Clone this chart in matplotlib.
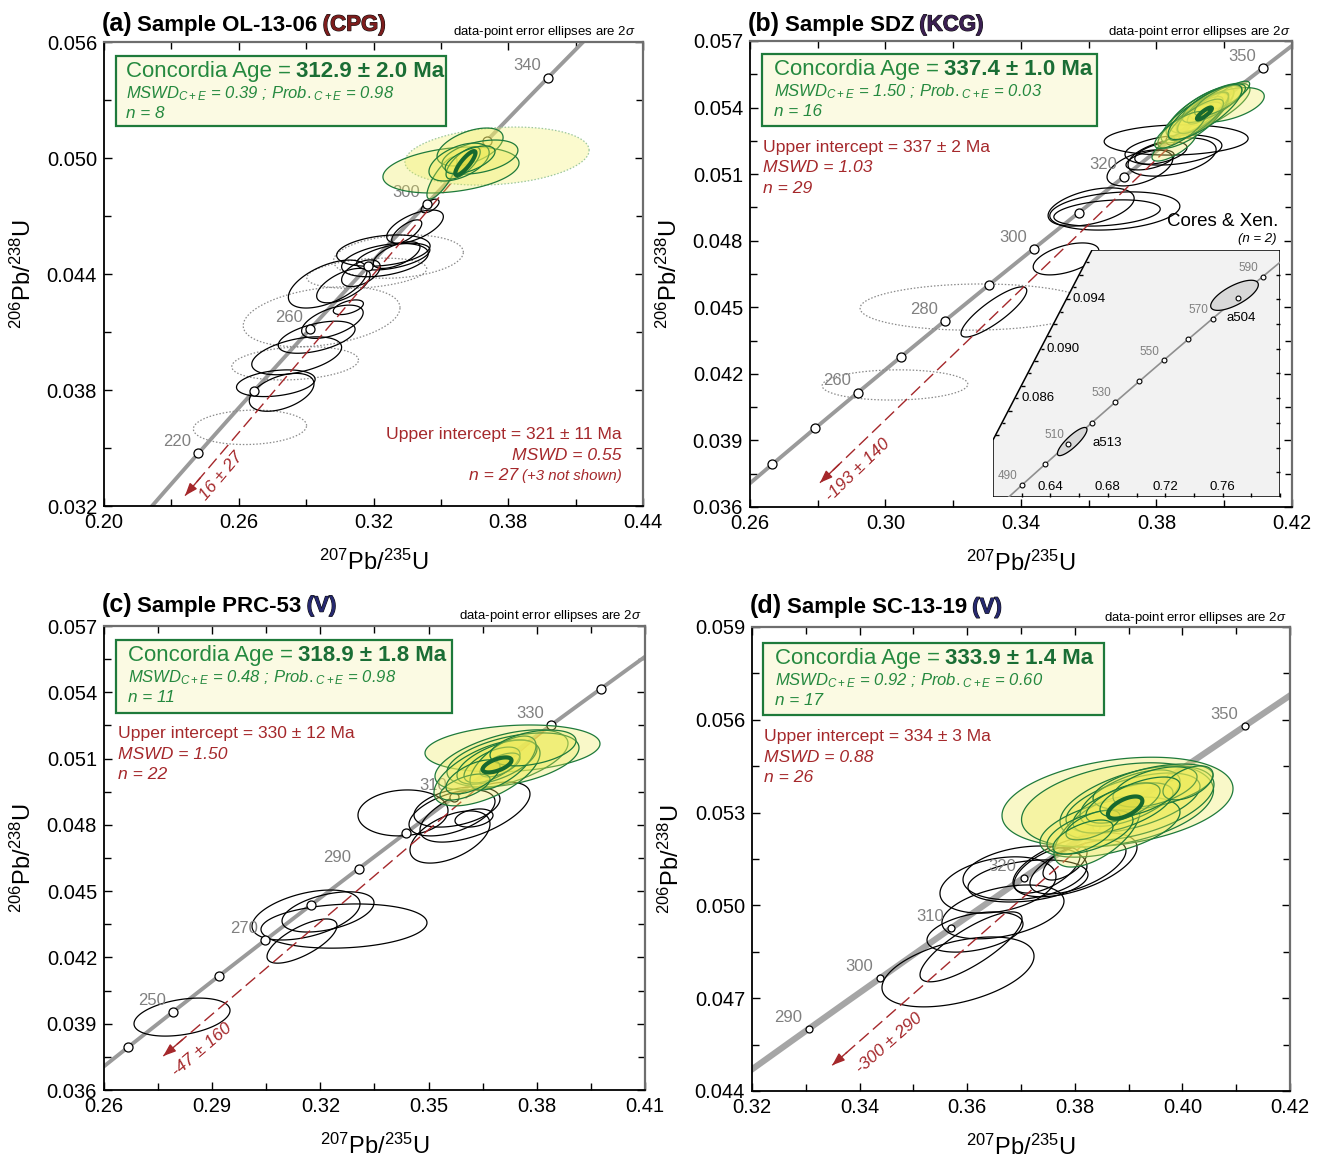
import numpy as np
import matplotlib
matplotlib.use('Agg')
import matplotlib.pyplot as plt
from matplotlib.patches import Polygon, Rectangle
from matplotlib import font_manager as fm
import matplotlib.patheffects as pe

_names = {f.name for f in fm.fontManager.ttflist}
NARROW = 'Liberation Sans Narrow' if 'Liberation Sans Narrow' in _names else 'Liberation Sans'
plt.rcParams['font.family'] = [NARROW, 'DejaVu Sans']
plt.rcParams['mathtext.fontset'] = 'custom'
plt.rcParams['mathtext.rm'] = NARROW
plt.rcParams['mathtext.it'] = NARROW + ':italic'
plt.rcParams['mathtext.bf'] = NARROW + ':bold'

# ---------------- decay constants (concordia) ----------------
L238 = 1.55125e-10
L235 = 9.8485e-10

# ---------------- panel (a) OL-13-06 ----------------
A_TICK_AGES = [220, 240, 260, 280, 300, 320, 340]
A_LABEL_AGES = [220, 260, 300, 340]
A_BLACK = [  # (x, y, 2s_x, 2s_y, rho)
    (0.3452, 0.04752, 0.0040, 0.00035, 0.6),
    (0.3385, 0.04645, 0.0126, 0.00086, 0.6),
    (0.3348, 0.04619, 0.0067, 0.00061, 0.7),
    (0.3244, 0.04521, 0.0208, 0.00081, 0.3),
    (0.3251, 0.04472, 0.0193, 0.00086, 0.4),
    (0.3288, 0.04490, 0.0163, 0.00069, 0.5),
    (0.3303, 0.04498, 0.0104, 0.00069, 0.6),
    (0.3144, 0.04404, 0.0086, 0.00069, 0.5),
    (0.2996, 0.04348, 0.0175, 0.00124, 0.55),
    (0.3066, 0.04340, 0.0119, 0.00089, 0.6),
    (0.3088, 0.04228, 0.0067, 0.00038, 0.5),
    (0.3017, 0.04153, 0.0137, 0.00086, 0.55),
    (0.2947, 0.04073, 0.0171, 0.00083, 0.5),
    (0.2858, 0.03977, 0.0200, 0.00098, 0.45),
    (0.2765, 0.03835, 0.0175, 0.00069, 0.3),
    (0.2791, 0.03788, 0.0144, 0.00098, 0.45),
]
A_GRAY = [
    (0.3311, 0.04490, 0.0289, 0.00112, 0.2),
    (0.3170, 0.04404, 0.0267, 0.00078, 0.3),
    (0.2969, 0.04179, 0.0349, 0.00155, 0.3),
    (0.2851, 0.03938, 0.0282, 0.00086, 0.2),
    (0.2650, 0.03607, 0.0252, 0.00089, 0.1),
]
A_GREEN_DOTTED = [(0.3750, 0.05010, 0.0410, 0.00150, 0.2)]
A_GREEN = [
    (0.3545, 0.04938, 0.0303, 0.00119, 0.3),
    (0.3505, 0.04897, 0.0067, 0.00109, 0.8),
    (0.3630, 0.05057, 0.0147, 0.00098, 0.5),
    (0.3674, 0.05005, 0.0169, 0.00088, 0.4),
    (0.3581, 0.04979, 0.0134, 0.00098, 0.5),
    (0.3599, 0.04974, 0.0076, 0.00083, 0.7),
    (0.3630, 0.04990, 0.0111, 0.00072, 0.6),
]
A_AGE = 312.9
A_AGE_ELL = (0.0045, 0.00062, 0.85)
A_UPPER, A_LOWER = 321, 16
A_TEXT = dict(age='312.9 ± 2.0 Ma', mswd='0.39', prob='0.98', n='8',
              ui='321 ± 11 Ma', ui_mswd='0.55', ui_n='27', lower='16 ± 27')

# ---------------- panel (b) SDZ ----------------
B_TICK_AGES = [240, 250, 260, 270, 280, 290, 300, 310, 320, 330, 340, 350]
B_LABEL_AGES = [260, 280, 300, 320, 350]
B_BLACK = [
    (0.3858, 0.05254, 0.02125, 0.00068, 0.1),
    (0.3850, 0.05209, 0.0143, 0.00068, 0.3),
    (0.3846, 0.05177, 0.0130, 0.00086, 0.4),
    (0.3813, 0.05195, 0.0077, 0.00050, 0.5),
    (0.3751, 0.05128, 0.0097, 0.00081, 0.5),
    (0.3781, 0.05164, 0.0071, 0.00045, 0.5),
    (0.3607, 0.04952, 0.0127, 0.00086, 0.45),
    (0.3677, 0.04934, 0.0192, 0.00086, 0.25),
    (0.3654, 0.04925, 0.0157, 0.00059, 0.3),
    (0.3533, 0.04718, 0.0097, 0.00072, 0.5),
    (0.3320, 0.04479, 0.0097, 0.00113, 0.85),
]
B_GRAY = [
    (0.3267, 0.04501, 0.0342, 0.00104, 0.05),
    (0.3028, 0.04150, 0.0215, 0.00068, 0.05),
]
B_GREEN = [
    (0.39284, 0.05380, 0.0100, 0.00112, 0.78),
    (0.39432, 0.05389, 0.0085, 0.00104, 0.80),
    (0.39579, 0.05398, 0.0118, 0.00112, 0.75),
    (0.40081, 0.05412, 0.0110, 0.00078, 0.50),
    (0.39137, 0.05353, 0.0100, 0.00112, 0.78),
    (0.38517, 0.05227, 0.0065, 0.00068, 0.75),
    (0.40170, 0.05457, 0.0058, 0.00062, 0.80),
    (0.39284, 0.05367, 0.0068, 0.00083, 0.80),
    (0.38989, 0.05321, 0.0095, 0.00104, 0.78),
    (0.39520, 0.05398, 0.0061, 0.00072, 0.80),
    (0.39373, 0.05376, 0.0075, 0.00093, 0.78),
    (0.39638, 0.05416, 0.0088, 0.00083, 0.75),
    (0.39166, 0.05345, 0.0081, 0.00093, 0.80),
    (0.39874, 0.05434, 0.0075, 0.00072, 0.75),
    (0.38694, 0.05299, 0.0075, 0.00083, 0.78),
    (0.39432, 0.05380, 0.0109, 0.00124, 0.80),
]
B_AGE = 337.4
B_AGE_ELL = (0.0022, 0.00027, 0.85)
B_UPPER, B_LOWER = 337, -193
B_TEXT = dict(age='337.4 ± 1.0 Ma', mswd='1.50', prob='0.03', n='16',
              ui='337 ± 2 Ma', ui_mswd='1.03', ui_n='29', lower='-193 ± 140')
# inset: inherited cores & xenocrysts
INSET_TICK_AGES = [490, 500, 510, 520, 530, 540, 550, 560, 570, 580, 590]
INSET_LABEL_AGES = [490, 510, 530, 550, 570, 590]
INSET_CORES = [(0.7683, 0.09433, 0.0166, 0.00122, 0.7),
               (0.6552, 0.08249, 0.0103, 0.00114, 0.85)]
INSET_CORE_NAMES = ['a504', 'a513']
INSET_XLABELS = [0.64, 0.68, 0.72, 0.76]
INSET_YLABELS = [0.086, 0.090, 0.094]

# ---------------- panel (c) PRC-53 ----------------
C_TICK_AGES = [240, 250, 260, 270, 280, 290, 300, 310, 320, 330, 340]
C_LABEL_AGES = [250, 270, 290, 310, 330]
C_BLACK = [
    (0.36286, 0.04858, 0.01525, 0.00136, 0.6),
    (0.35649, 0.04854, 0.01192, 0.00104, 0.5),
    (0.35787, 0.04881, 0.01192, 0.00091, 0.4),
    (0.36259, 0.04831, 0.00527, 0.00041, 0.3),
    (0.35593, 0.04745, 0.01109, 0.00118, 0.5),
    (0.34290, 0.04854, 0.01248, 0.00104, 0.1),
    (0.31601, 0.04392, 0.01497, 0.00113, 0.45),
    (0.32211, 0.04406, 0.01275, 0.00091, 0.45),
    (0.32654, 0.04342, 0.02301, 0.00100, 0.15),
    (0.31490, 0.04274, 0.00970, 0.00100, 0.7),
    (0.28163, 0.03930, 0.01331, 0.00086, 0.35),
]
C_GREEN = [
    (0.37326, 0.05146, 0.02426, 0.00106, 0.2),
    (0.37021, 0.05094, 0.01844, 0.00136, 0.55),
    (0.37340, 0.05094, 0.01830, 0.00122, 0.45),
    (0.36619, 0.05035, 0.01470, 0.00149, 0.6),
    (0.36896, 0.05084, 0.01109, 0.00100, 0.6),
    (0.36758, 0.05071, 0.00776, 0.00081, 0.6),
    (0.36980, 0.05071, 0.00555, 0.00054, 0.6),
    (0.37063, 0.05080, 0.00915, 0.00122, 0.65),
    (0.36009, 0.04971, 0.00693, 0.00059, 0.6),
    (0.37895, 0.05148, 0.01192, 0.00081, 0.4),
    (0.36231, 0.05017, 0.00749, 0.00077, 0.6),
]
C_AGE = 318.9
C_AGE_ELL = (0.0040, 0.00034, 0.6)
C_UPPER, C_LOWER = 330, -47
C_TEXT = dict(age='318.9 ± 1.8 Ma', mswd='0.48', prob='0.98', n='11',
              ui='330 ± 12 Ma', ui_mswd='1.50', ui_n='22', lower='-47 ± 160')

# ---------------- panel (d) SC-13-19 ----------------
D_TICK_AGES = [290, 300, 310, 320, 330, 340, 350]
D_LABEL_AGES = [290, 300, 310, 320, 350]
D_BLACK = [
    (0.38004, 0.05131, 0.01152, 0.00103, 0.55),
    (0.38059, 0.05124, 0.00892, 0.00087, 0.6),
    (0.37818, 0.05137, 0.00409, 0.00055, 0.6),
    (0.37074, 0.05105, 0.01152, 0.00087, 0.25),
    (0.36572, 0.05066, 0.01078, 0.00091, 0.3),
    (0.37483, 0.05114, 0.00613, 0.00074, 0.6),
    (0.36071, 0.04866, 0.00948, 0.00113, 0.8),
    (0.36145, 0.04914, 0.00892, 0.00065, 0.4),
    (0.35829, 0.04785, 0.01413, 0.00113, 0.45),
    (0.36665, 0.04979, 0.01134, 0.00087, 0.4),
    (0.37130, 0.05079, 0.01115, 0.00068, 0.3),
]
D_GREEN = [
    (0.38794, 0.05334, 0.02147, 0.00145, 0.3),
    (0.38794, 0.05325, 0.01784, 0.00136, 0.35),
    (0.39156, 0.05331, 0.01431, 0.00120, 0.5),
    (0.39082, 0.05331, 0.01245, 0.00097, 0.55),
    (0.38654, 0.05253, 0.01301, 0.00097, 0.5),
    (0.38413, 0.05237, 0.00799, 0.00113, 0.6),
    (0.39026, 0.05347, 0.00929, 0.00091, 0.6),
    (0.39454, 0.05383, 0.01115, 0.00074, 0.5),
    (0.38896, 0.05315, 0.00929, 0.00081, 0.6),
    (0.39491, 0.05383, 0.00781, 0.00065, 0.5),
    (0.38283, 0.05237, 0.00799, 0.00071, 0.55),
    (0.38896, 0.05331, 0.00688, 0.00065, 0.6),
    (0.40104, 0.05396, 0.00465, 0.00055, 0.5),
    (0.38338, 0.05260, 0.00502, 0.00048, 0.6),
    (0.39212, 0.05350, 0.00743, 0.00065, 0.6),
    (0.38152, 0.05221, 0.00558, 0.00055, 0.6),
]
D_AGE = 333.9
D_AGE_ELL = (0.0032, 0.00036, 0.6)
D_UPPER, D_LOWER = 334, -300
D_TEXT = dict(age='333.9 ± 1.4 Ma', mswd='0.92', prob='0.60', n='17',
              ui='334 ± 3 Ma', ui_mswd='0.88', ui_n='26', lower='-300 ± 290')

# ---------------- styles ----------------
GREEN_EDGE = '#1e7a3b'
GREEN_TXT = '#25893f'
GREEN_BOLD = '#1a6e35'
YELLOW = (0.93, 0.92, 0.35, 0.33)
RED = '#a5282b'
CONC_GRAY = '#9a9a9a'
LABEL_GRAY = '#808080'


def concordia(t_ma):
    t = np.asarray(t_ma, dtype=float) * 1e6
    return np.expm1(L235 * t), np.expm1(L238 * t)


def ellipse(ax, e, **kw):
    cx, cy, sx, sy, r = e
    t = np.linspace(0, 2 * np.pi, 241)
    x = cx + sx * np.cos(t)
    y = cy + sy * (r * np.cos(t) + np.sqrt(1 - r * r) * np.sin(t))
    p = Polygon(np.column_stack([x, y]), closed=True, **kw)
    ax.add_patch(p)
    return p


fig = plt.figure(figsize=(13.2, 11.58), dpi=100)
renderer = fig.canvas.get_renderer()


def chain(ax, x, y, pieces, align='left'):
    """pieces: list of (text, gap_px_after, kwargs); placed on a common baseline."""
    texts, widths = [], []
    for txt, gap, kw in pieces:
        t = ax.text(x, y, txt, transform=ax.transAxes, va='baseline', ha='left',
                    zorder=10, **kw)
        w = t.get_window_extent(renderer).width
        texts.append(t)
        widths.append((w + gap) / ax.bbox.width)
    total = sum(widths) - pieces[-1][1] / ax.bbox.width
    x0 = x - total if align == 'right' else x
    for t, w in zip(texts, widths):
        t.set_x(x0)
        x0 += w
    return texts


def draw_panel(ax, P):
    ax.set_xlim(*P['xlim'])
    ax.set_ylim(*P['ylim'])
    xt = np.arange(P['xlim'][0], P['xlim'][1] + 1e-9, P['xstep'])
    yt = np.arange(P['ylim'][0], P['ylim'][1] + 1e-9, P['ystep'])
    ax.set_xticks(xt)
    ax.set_yticks(yt)
    ax.set_xticks(np.arange(P['xlim'][0], P['xlim'][1] + 1e-9, P['xstep'] / 2), minor=True)
    ax.set_yticks(np.arange(P['ylim'][0], P['ylim'][1] + 1e-9, P['ystep'] / 2), minor=True)
    ax.set_xticklabels(['%.2f' % v for v in xt])
    ax.set_yticklabels(['%.3f' % v for v in yt])
    ax.tick_params(which='both', direction='in', top=True, right=True, width=1.0,
                   labelsize=14.5, pad=5)
    ax.tick_params(which='major', length=6)
    ax.tick_params(which='minor', length=5)
    for s in ['left', 'bottom']:
        ax.spines[s].set_color('black')
        ax.spines[s].set_linewidth(1.3)
    for s in ['top', 'right']:
        ax.spines[s].set_color('#6e6e6e')
        ax.spines[s].set_linewidth(1.6)
    ax.set_xlabel(r'$^{207}$Pb/$^{235}$U', fontsize=17, labelpad=13)
    ax.set_ylabel(r'$^{206}$Pb/$^{238}$U', fontsize=17, labelpad=8)

    # concordia curve
    tt = np.linspace(150, 400, 600)
    cx, cy = concordia(tt)
    ax.plot(cx, cy, color=P['conc_color'], lw=P['conc_lw'], zorder=2,
            solid_capstyle='butt')

    for e in P.get('gray', []):
        ellipse(ax, e, fill=False, ec='#8a8a8a', lw=0.9, ls=(0, (1.2, 1.5)), zorder=3)
    for e in P['black']:
        ellipse(ax, e, fill=False, ec='black', lw=0.9, zorder=3)

    # discordia
    ux, uy = concordia(P['upper'])
    lx, ly = concordia(P['lower'])
    slope = (uy - ly) / (ux - lx)
    xa = P['arrow_x']
    ya = ly + slope * (xa - lx)
    ax.plot([xa, ux], [ya, uy], color=RED, lw=1.0, dashes=(9, 4), zorder=4)
    xs = xa + (ux - xa) * 0.05
    ax.annotate('', xy=(xa, ya), xytext=(xs, ly + slope * (xs - lx)),
                arrowprops=dict(arrowstyle='-|>,head_length=0.75,head_width=0.28',
                                color=RED, lw=1.0, shrinkA=0, shrinkB=0), zorder=4)
    p0 = ax.transData.transform((lx, ly))
    p1 = ax.transData.transform((ux, uy))
    ang = np.degrees(np.arctan2(p1[1] - p0[1], p1[0] - p0[0]))
    rad = np.radians(ang)
    yl = P['dlabel_y']
    xl = lx + (yl - ly) / slope
    d = P['dlabel_off']
    ax.annotate(P['text']['lower'], (xl, yl), xytext=(d * np.sin(rad), -d * np.cos(rad)),
                textcoords='offset pixels', rotation=ang, rotation_mode='anchor',
                ha='center', va='center', color=RED, style='italic', fontsize=12.5,
                zorder=4)

    # concordia age markers (below filled ellipses)
    mx, my = concordia(P['ticks'])
    ax.plot(mx, my, 'o', ls='none', ms=P['ms'], mfc='white', mec='black', mew=0.9,
            zorder=4.5)
    for a in P['labels']:
        x, y = concordia(a)
        ax.annotate(str(a), (x, y), xytext=(-5, 3), textcoords='offset points',
                    ha='right', va='bottom', color=LABEL_GRAY, fontsize=12, zorder=4.5)

    for e in P.get('green_dotted', []):
        ellipse(ax, e, fc=(0.96, 0.95, 0.5, 0.38), ec='#9cc79c', lw=0.9,
                ls=(0, (1.2, 1.5)), zorder=5)
    for e in P['green']:
        ellipse(ax, e, fc=YELLOW, ec=GREEN_EDGE, lw=0.9, zorder=5)
    ax_, ay_ = concordia(P['age'])
    ellipse(ax, (float(ax_), float(ay_)) + P['age_ell'], fc=(0.85, 0.85, 0.25, 0.7),
            ec='#17692f', lw=3.0, zorder=6)

    # Concordia age box
    x0, y0, x1, y1 = P['box']
    ax.add_patch(Rectangle((x0, y0), x1 - x0, y1 - y0, transform=ax.transAxes,
                           fc='#fbfae3', ec=GREEN_EDGE, lw=1.6, zorder=9))
    T = P['text']
    bx, (b1, b2, b3) = P['box_text_x'], P['box_text_y']
    chain(ax, bx, b1, [('Concordia Age =', 5, dict(fontsize=16, color=GREEN_TXT)),
                       (T['age'], 0, dict(fontsize=16, color=GREEN_BOLD, fontweight='bold'))])
    ax.text(bx, b2, r'$MSWD_{C+E}$ = %s ; $Prob._{C+E}$ = %s' % (T['mswd'], T['prob']),
            transform=ax.transAxes, fontsize=12, color=GREEN_TXT, style='italic',
            va='baseline', zorder=10)
    ax.text(bx, b3, 'n = %s' % T['n'], transform=ax.transAxes, fontsize=12.3,
            color=GREEN_TXT, style='italic', va='baseline', zorder=10)

    # upper intercept text
    ux_, (u1, u2, u3) = P['ui_x'], P['ui_y']
    ha = P['ui_ha']
    ax.text(ux_, u1, 'Upper intercept = ' + T['ui'], transform=ax.transAxes, ha=ha,
            va='baseline', fontsize=12.6, color=RED, zorder=10)
    ax.text(ux_, u2, 'MSWD = ' + T['ui_mswd'], transform=ax.transAxes, ha=ha,
            va='baseline', fontsize=12.6, color=RED, style='italic', zorder=10)
    if P.get('not_shown'):
        chain(ax, ux_, u3, [('n = ' + T['ui_n'], 4, dict(fontsize=12.6, color=RED, style='italic')),
                            ('(+3 not shown)', 0, dict(fontsize=10.8, color=RED, style='italic'))],
              align='right')
    else:
        ax.text(ux_, u3, 'n = ' + T['ui_n'], transform=ax.transAxes, ha=ha,
                va='baseline', fontsize=12.6, color=RED, style='italic', zorder=10)

    # title
    tx, ty = P['title_xy']
    chain(ax, tx, ty, [(P['letter'], 5, dict(fontsize=18, fontweight='bold')),
                       ('Sample ' + P['sample'], 5, dict(fontsize=16, fontweight='bold')),
                       (P['unit'], 0, dict(fontsize=16, fontweight='bold', color=P['unit_color'],
                                           path_effects=[pe.withStroke(linewidth=0.8,
                                                                       foreground='#111111')]))])
    ax.text(P['note_xy'][0], P['note_xy'][1], r'data-point error ellipses are 2$\sigma$',
            transform=ax.transAxes, ha='right', va='baseline', fontsize=9.5, zorder=10)


panels = [
    dict(rect=[104 / 1320, 652 / 1158, 539 / 1320, 464 / 1158],
         xlim=(0.20, 0.44), ylim=(0.032, 0.056), xstep=0.06, ystep=0.006,
         conc_color=CONC_GRAY, conc_lw=2.8, ms=6.5,
         ticks=A_TICK_AGES, labels=A_LABEL_AGES, black=A_BLACK, gray=A_GRAY,
         green=A_GREEN, green_dotted=A_GREEN_DOTTED, age=A_AGE, age_ell=A_AGE_ELL,
         upper=A_UPPER, lower=A_LOWER, arrow_x=0.2361, dlabel_y=0.03407, dlabel_off=15,
         text=A_TEXT, box=(0.0223, 0.819, 0.6345, 0.9698), box_text_x=0.0408,
         box_text_y=(0.9235, 0.8787, 0.8355), ui_x=0.961, ui_y=(0.1438, 0.0991, 0.056),
         ui_ha='right', not_shown=True, title_xy=(-0.004, 1.0244),
         letter='(a)', sample='OL-13-06', unit='(CPG)', unit_color='#7c1d1d',
         note_xy=(0.986, 1.015)),
    dict(rect=[750 / 1320, 651 / 1158, 542 / 1320, 466 / 1158],
         xlim=(0.26, 0.42), ylim=(0.036, 0.057), xstep=0.04, ystep=0.003,
         conc_color=CONC_GRAY, conc_lw=2.8, ms=6.5,
         ticks=B_TICK_AGES, labels=B_LABEL_AGES, black=B_BLACK, gray=B_GRAY,
         green=B_GREEN, age=B_AGE, age_ell=B_AGE_ELL,
         upper=B_UPPER, lower=B_LOWER, arrow_x=0.28066, dlabel_y=0.0382, dlabel_off=17,
         text=B_TEXT, box=(0.0221, 0.8176, 0.640, 0.972), box_text_x=0.0443,
         box_text_y=(0.926, 0.8813, 0.8384), ui_x=0.024, ui_y=(0.7624, 0.7196, 0.6745),
         ui_ha='left', title_xy=(-0.004, 1.0221),
         letter='(b)', sample='SDZ', unit='(KCG)', unit_color='#3b1f52',
         note_xy=(0.997, 1.0129)),
    dict(rect=[104 / 1320, 68 / 1158, 541 / 1320, 464 / 1158],
         xlim=(0.26, 0.41), ylim=(0.036, 0.057), xstep=0.03, ystep=0.003,
         conc_color=CONC_GRAY, conc_lw=2.8, ms=6.5,
         ticks=C_TICK_AGES, labels=C_LABEL_AGES, black=C_BLACK,
         green=C_GREEN, age=C_AGE, age_ell=C_AGE_ELL,
         upper=C_UPPER, lower=C_LOWER, arrow_x=0.27644, dlabel_y=0.03852, dlabel_off=21,
         text=C_TEXT, box=(0.022, 0.8125, 0.643, 0.970), box_text_x=0.0444,
         box_text_y=(0.9235, 0.8787, 0.8356), ui_x=0.026, ui_y=(0.758, 0.7134, 0.6696),
         ui_ha='left', title_xy=(-0.004, 1.0308),
         letter='(c)', sample='PRC-53', unit='(V)', unit_color='#26286e',
         note_xy=(0.994, 1.0145)),
    dict(rect=[752 / 1320, 67 / 1158, 538 / 1320, 464 / 1158],
         xlim=(0.32, 0.42), ylim=(0.044, 0.059), xstep=0.02, ystep=0.003,
         conc_color='#a6a6a6', conc_lw=4.5, ms=5,
         ticks=D_TICK_AGES, labels=D_LABEL_AGES, black=D_BLACK,
         green=D_GREEN, age=D_AGE, age_ell=D_AGE_ELL,
         upper=D_UPPER, lower=D_LOWER, arrow_x=0.33491, dlabel_y=0.04606, dlabel_off=21,
         text=D_TEXT, box=(0.020, 0.810, 0.654, 0.9655), box_text_x=0.0428,
         box_text_y=(0.9192, 0.8744, 0.8312), ui_x=0.022, ui_y=(0.755, 0.7097, 0.6666),
         ui_ha='left', title_xy=(-0.004, 1.0295),
         letter='(d)', sample='SC-13-19', unit='(V)', unit_color='#26286e',
         note_xy=(0.9944, 1.0136)),
]

axes = []
for P in panels:
    ax = fig.add_axes(P['rect'])
    draw_panel(ax, P)
    axes.append(ax)

# ---------------- inset in panel (b) ----------------
axb = axes[1]
axb.text(0.974, 0.6116, 'Cores & Xen.', transform=axb.transAxes, ha='right',
         va='center', fontsize=13.5, zorder=10)
axb.text(0.972, 0.575, '(n = 2)', transform=axb.transAxes, ha='right',
         va='center', fontsize=9.5, style='italic', zorder=10)

axi = fig.add_axes([993 / 1320, (1158 - 497) / 1158, 287 / 1320, 247 / 1158])
IX, IY = (0.60, 0.80), (0.078, 0.098)
axi.set_xlim(*IX)
axi.set_ylim(*IY)
axi.patch.set_visible(False)
for s in axi.spines.values():
    s.set_visible(False)
cut_y, cut_x = 0.2308, 0.345
bg = Polygon([(0, 0), (0, cut_y), (cut_x, 1), (1, 1), (1, 0)], closed=True,
             transform=axi.transAxes, fc='#f2f2f2', ec='black', lw=1.1, zorder=0)
axi.add_patch(bg)
axi.set_xticks(np.arange(0.62, 0.80, 0.02))
axi.set_yticks(np.arange(0.080, 0.098, 0.002))
axi.yaxis.set_ticks_position('right')
axi.tick_params(which='both', direction='in', length=3, width=1, labelbottom=False,
                labelleft=False, labelright=False, left=False, top=False, right=True,
                bottom=True)

tt = np.linspace(450, 640, 300)
cx, cy = concordia(tt)
ln, = axi.plot(cx, cy, color='#8f8f8f', lw=1.2, zorder=2)
ln.set_clip_path(bg)
for e, name in zip(INSET_CORES, INSET_CORE_NAMES):
    p = ellipse(axi, e, fc='#d8d8d8', ec='black', lw=0.9, zorder=3)
    p.set_clip_path(bg)
mx, my = concordia(INSET_TICK_AGES)
mk, = axi.plot(mx, my, 'o', ls='none', ms=3.5, mfc='white', mec='black', mew=0.8,
               zorder=4)
mk.set_clip_path(bg)
for a in INSET_LABEL_AGES:
    x, y = concordia(a)
    axi.annotate(str(a), (x, y), xytext=(-3, 2), textcoords='offset points', ha='right',
                 va='bottom', color=LABEL_GRAY, fontsize=8.5, zorder=5)
axi.annotate(INSET_CORE_NAMES[0], (INSET_CORES[0][0], INSET_CORES[0][1]), xytext=(7, -23),
             textcoords='offset pixels', ha='center', va='center', fontsize=9.5, zorder=5)
axi.annotate(INSET_CORE_NAMES[1], (INSET_CORES[1][0], INSET_CORES[1][1]), xytext=(20, -1),
             textcoords='offset pixels', ha='left', va='center', fontsize=9.5, zorder=5)
for v in INSET_XLABELS:
    axi.text(v, IY[0] + 0.0008, '%.2f' % v, ha='center', va='center', fontsize=9.5, zorder=5)


def diag_x(v):
    ya = (v - IY[0]) / (IY[1] - IY[0])
    xa = cut_x * (ya - cut_y) / (1 - cut_y)
    return IX[0] + (IX[1] - IX[0]) * xa


for v in np.arange(0.083, 0.0975, 0.001):
    xd = diag_x(v)
    axi.plot([xd, xd + 0.0025], [v, v], color='black', lw=1.0, zorder=5,
             solid_capstyle='butt')
for v in INSET_YLABELS:
    axi.text(diag_x(v) + 0.0045, v, '%.3f' % v, ha='left', va='center', fontsize=9.5,
             zorder=5)

fig.savefig('out.png', dpi=100)
